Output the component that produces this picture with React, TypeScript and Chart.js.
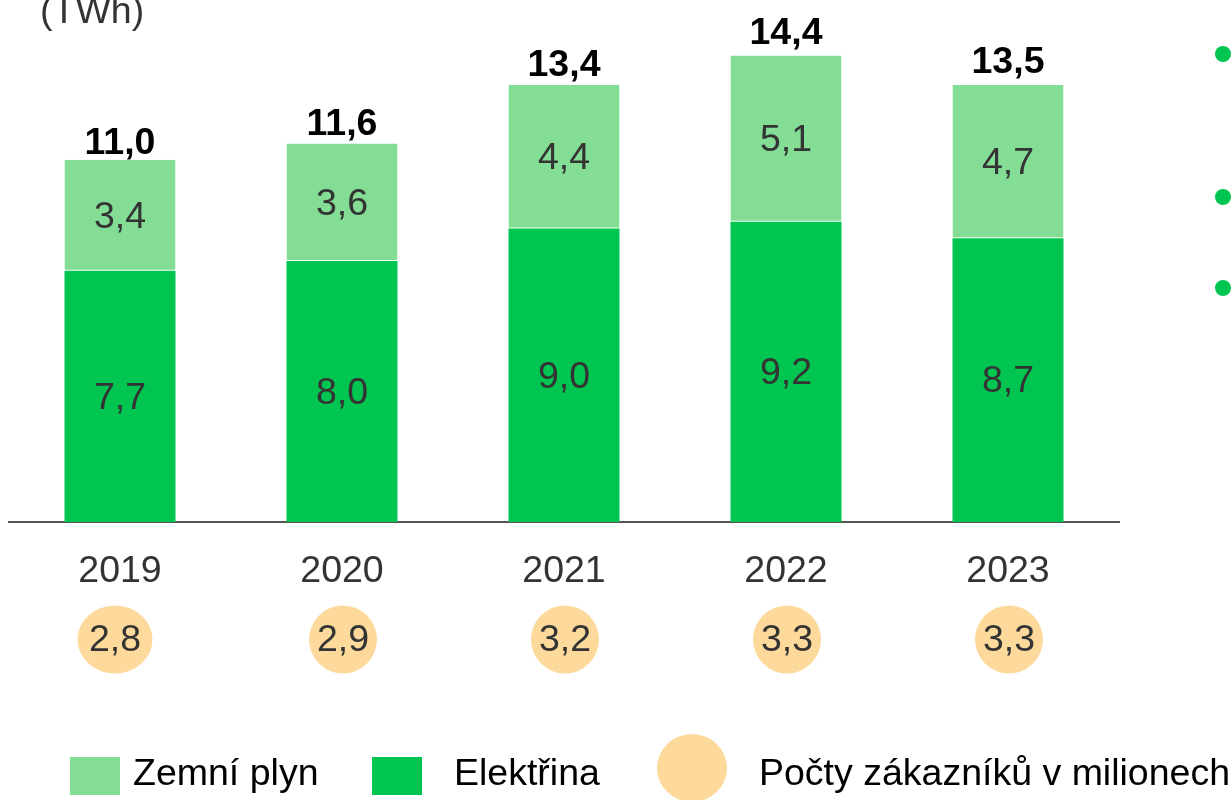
import React, { useEffect, useRef } from "react";
import { Chart, registerables } from "chart.js";

Chart.register(...registerables);

const years = ["2019", "2020", "2021", "2022", "2023"];
const electricity = [7.7, 8.0, 9.0, 9.2, 8.7];
const gas = [3.4, 3.6, 4.4, 5.1, 4.7];
const totals = [11.0, 11.6, 13.4, 14.4, 13.5];
const customers = [2.8, 2.9, 3.2, 3.3, 3.3];

const legendLabels = ["Zemní plyn", "Elektřina", "Počty zákazníků v milionech"];
const unitLabel = "(TWh)";

const C_ELEC = "#00C551";
const C_GAS = "#84DD94";
const C_CIRCLE = "#FED99C";
const FONT = "'Liberation Sans', Arial, sans-serif";
const FS = 37.5;

const fmt = (v: number) => v.toFixed(1).replace(".", ",");

const overlayPlugin = {
  id: "overlay",
  afterDatasetsDraw(chart: any) {
    const ctx = chart.ctx as CanvasRenderingContext2D;
    ctx.save();
    ctx.textAlign = "center";
    ctx.textBaseline = "middle";
    // segment labels
    chart.data.datasets.forEach((ds: any, di: number) => {
      const meta = chart.getDatasetMeta(di);
      meta.data.forEach((bar: any, i: number) => {
        const { x, y, base } = bar.getProps(["x", "y", "base"], true);
        ctx.font = `${FS}px ${FONT}`;
        ctx.fillStyle = "#333333";
        ctx.fillText(fmt(ds.data[i]), x, (y + base) / 2 + 2);
      });
    });
    // totals
    const yScale = chart.scales.y;
    const xScale = chart.scales.x;
    totals.forEach((t, i) => {
      const x = xScale.getPixelForValue(i);
      const y = yScale.getPixelForValue(t);
      ctx.font = `bold ${FS}px ${FONT}`;
      ctx.fillStyle = "#000000";
      ctx.fillText(fmt(t), x, y - 19);
    });
    // customer circles
    customers.forEach((c, i) => {
      const x0 = xScale.getPixelForValue(i);
      const first = i === 0;
      const x = first ? x0 - 5 : x0 + 1;
      const cy = 639.5;
      ctx.beginPath();
      ctx.ellipse(x, cy, first ? 37.5 : 34, 34, 0, 0, Math.PI * 2);
      ctx.fillStyle = C_CIRCLE;
      ctx.fill();
      ctx.font = `${FS}px ${FONT}`;
      ctx.fillStyle = "#333333";
      ctx.fillText(fmt(c), x, cy + 1);
    });
    // unit label
    ctx.textAlign = "left";
    ctx.textBaseline = "alphabetic";
    ctx.font = `${FS}px ${FONT}`;
    ctx.fillStyle = "#333333";
    ctx.fillText(unitLabel, 40, 23);
    // right bullets
    [54, 197, 288].forEach((by) => {
      ctx.beginPath();
      ctx.arc(1223, by, 8, 0, Math.PI * 2);
      ctx.fillStyle = C_ELEC;
      ctx.fill();
    });
    // legend
    ctx.textBaseline = "middle";
    ctx.fillStyle = C_GAS;
    ctx.fillRect(70, 757, 50, 38);
    ctx.fillStyle = C_ELEC;
    ctx.fillRect(372, 757, 50, 38);
    ctx.beginPath();
    ctx.ellipse(692, 768, 35, 34, 0, 0, Math.PI * 2);
    ctx.fillStyle = C_CIRCLE;
    ctx.fill();
    ctx.font = `${FS}px ${FONT}`;
    ctx.fillStyle = "#000000";
    ctx.fillText(legendLabels[0], 133, 775);
    ctx.fillText(legendLabels[1], 454, 775);
    ctx.fillText(legendLabels[2], 759, 775);
    ctx.restore();
  },
};

export default function App() {
  const ref = useRef<HTMLCanvasElement | null>(null);
  useEffect(() => {
    document.body.style.margin = "0";
    const canvas = ref.current!;
    const chart = new Chart(canvas, {
      type: "bar",
      data: {
        labels: years,
        datasets: [
          {
            label: legendLabels[1],
            data: electricity,
            backgroundColor: C_ELEC,
            borderWidth: 0,
            barPercentage: 0.5,
            categoryPercentage: 1,
          },
          {
            label: legendLabels[0],
            data: gas,
            backgroundColor: C_GAS,
            borderColor: "#ffffff",
            borderWidth: { bottom: 1, top: 0, left: 0, right: 0 } as any,
            borderSkipped: false,
            barPercentage: 0.5,
            categoryPercentage: 1,
          },
        ],
      },
      options: {
        responsive: false,
        animation: false,
        layout: { padding: { left: 9, right: 113, top: 0, bottom: 0 } },
        plugins: {
          legend: { display: false },
          tooltip: { enabled: false },
        },
        scales: {
          x: {
            stacked: true,
            grid: { display: false, drawTicks: false },
            border: { display: true, color: "#555555", width: 2 },
            ticks: {
              color: "#333333",
              font: { family: FONT, size: FS },
              padding: 27,
            },
            afterFit: (scale: any) => {
              scale.height = 278;
            },
          },
          y: {
            stacked: true,
            display: false,
            min: 0,
            max: 16,
          },
        },
      },
      plugins: [overlayPlugin],
    });
    return () => chart.destroy();
  }, []);
  return <canvas ref={ref} width={1232} height={800} style={{ display: "block" }} />;
}
